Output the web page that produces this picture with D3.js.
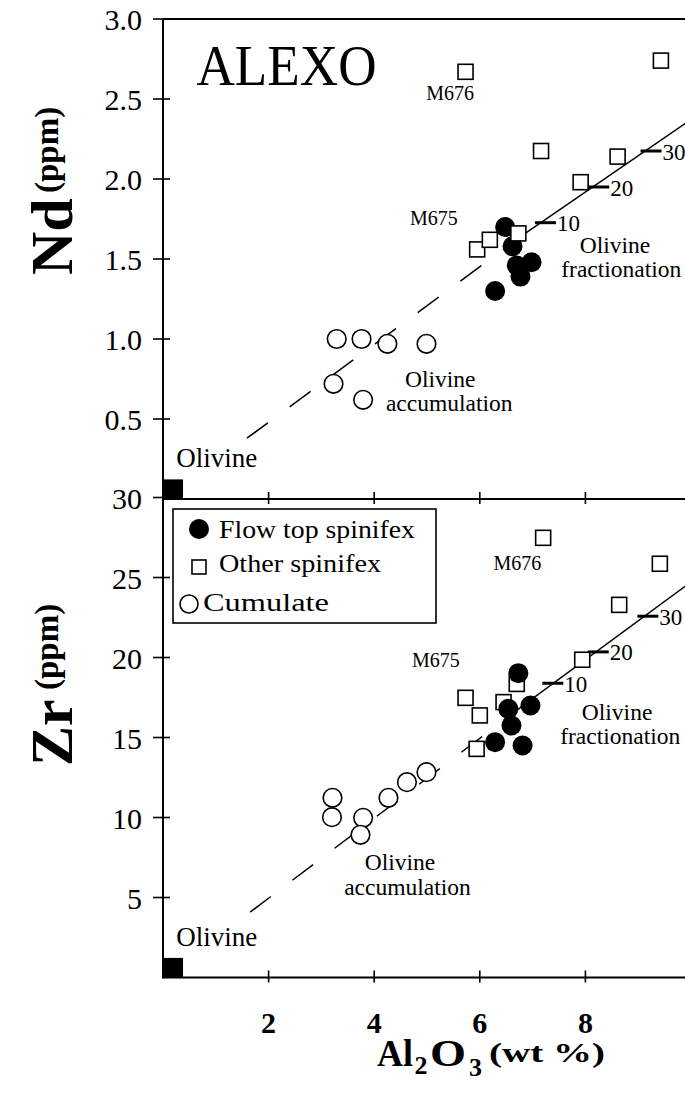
<!DOCTYPE html>
<html><head><meta charset="utf-8">
<script src="https://cdn.jsdelivr.net/npm/d3@7"></script>
<style>html,body{margin:0;padding:0;background:#fff;overflow:hidden;} svg{display:block;}</style>
</head><body>
<svg id="chart" width="685" height="1097"></svg>
<script>
// ---------- data (Al2O3 wt%, value) ----------
const xTicks = [2, 4, 6, 8];
const ndTicks = [0.5, 1.0, 1.5, 2.0, 2.5, 3.0];
const ndTickLabels = ["0.5", "1.0", "1.5", "2.0", "2.5", "3.0"];
const zrTicks = [5, 10, 15, 20, 25, 30];
const zrTickLabels = ["5", "10", "15", "20", "25", "30"];

const ndFlowTop = [[6.48,1.70],[6.62,1.58],[6.98,1.48],[6.70,1.46],[6.77,1.39],[6.29,1.30]];
const ndOther   = [[5.73,2.67],[9.43,2.74],[7.16,2.175],[8.61,2.14],[7.91,1.98],[6.73,1.66],[5.95,1.56],[6.19,1.62]];
const ndCumulate= [[3.29,1.00],[3.76,1.00],[4.25,0.97],[4.99,0.97],[3.23,0.72],[3.79,0.62]];
const ndOlivine = [[0.19,0.06]];
const ndTrendDashed = [[1.59,0.38],[6.86,1.66]];
const ndTrendSolid  = [[6.86,1.66],[9.95,2.36]];
const ndFrac = [[10,7.12,1.727],[20,8.13,1.95],[30,9.12,2.175]];

const zrFlowTop = [[6.73,19.02],[6.54,16.79],[6.96,17.00],[6.60,15.75],[6.29,14.71],[6.81,14.50]];
const zrOther   = [[7.20,27.48],[9.41,25.86],[8.64,23.29],[7.94,19.86],[6.70,18.35],[5.73,17.48],[6.45,17.21],[6.00,16.38],[5.94,14.29]];
const zrCumulate= [[3.21,11.23],[3.20,10.02],[3.79,9.98],[3.74,8.92],[4.27,11.23],[4.62,12.21],[4.99,12.83]];
const zrOlivine = [[0.19,0.6]];
const zrTrendDashed = [[1.65,4.08],[6.76,16.85]];
const zrTrendSolid  = [[6.76,16.85],[9.95,24.6]];
const zrFrac = [[10,7.26,18.39],[20,8.12,20.35],[30,9.06,22.58]];

const legendLabels = ["Flow top spinifex", "Other spinifex", "Cumulate"];

// annotations: [text, Al2O3, value]
const ndNotes = [["M676",5.44,2.494],["M675",5.13,1.7125],["Olivine",8.56,1.5375],["fractionation",8.68,1.3875],["Olivine",5.25,0.70],["accumulation",5.42,0.55]];
const zrNotes = [["M676",6.71,25.47],["M675",5.17,19.41],["Olivine",8.60,16.09],["fractionation",8.66,14.59],["Olivine",4.49,6.72],["accumulation",4.63,5.16]];

// ---------- drawing ----------
const FONT = "'Liberation Serif','Times New Roman',serif";
const svg = d3.select("#chart");
const x = d3.scaleLinear().domain([0, 10]).range([163, 691]);
const yNd = d3.scaleLinear().domain([0, 3]).range([499, 19]);
const yZr = d3.scaleLinear().domain([0, 30]).range([977.5, 497.5]);
const XL = 163, XR = 700;

// frame
const frame = svg.append("g").attr("stroke", "#000").attr("stroke-width", 2).attr("fill", "none");
frame.append("line").attr("x1", XL).attr("x2", XR).attr("y1", yNd(3)).attr("y2", yNd(3));
frame.append("line").attr("x1", XL).attr("x2", XR).attr("y1", yNd(0)).attr("y2", yNd(0));
frame.append("line").attr("x1", XL).attr("x2", XR).attr("y1", yZr(0)).attr("y2", yZr(0));
frame.append("line").attr("x1", XL).attr("x2", XL).attr("y1", yNd(3)).attr("y2", yZr(0) + 1);

function drawPanel(y, ticks, tickLabels, flow, other, cum, oliv, dashed, solid, frac, notes, squaresOnTop) {
  const g = svg.append("g");
  // x ticks (crossing)
  g.selectAll(null).data(xTicks).join("line")
    .attr("x1", d => x(d)).attr("x2", d => x(d))
    .attr("y1", y(0) - 7).attr("y2", y(0) + 5)
    .attr("stroke", "#000").attr("stroke-width", 1.6);
  // y ticks (crossing)
  g.selectAll(null).data(ticks).join("line")
    .attr("x1", XL - 10).attr("x2", XL + 7)
    .attr("y1", d => y(d)).attr("y2", d => y(d))
    .attr("stroke", "#000").attr("stroke-width", 1.6);
  g.selectAll(null).data(ticks).join("text")
    .attr("x", 142).attr("y", d => y(d) + 11)
    .attr("text-anchor", "end").attr("font-family", FONT).attr("font-size", 30)
    .text((d, i) => tickLabels[i]);

  const line = d3.line().x(d => x(d[0])).y(d => y(d[1]));
  g.append("path").attr("d", line(dashed)).attr("fill", "none").attr("stroke", "#000")
    .attr("stroke-width", 1.5).attr("stroke-dasharray", "26,27");
  g.append("path").attr("d", line(solid)).attr("fill", "none").attr("stroke", "#000")
    .attr("stroke-width", 1.5);

  // fractionation ticks
  g.selectAll(null).data(frac).join("line")
    .attr("x1", d => x(d[1]) - 4).attr("x2", d => x(d[1]) + 17)
    .attr("y1", d => y(d[2])).attr("y2", d => y(d[2]))
    .attr("stroke", "#000").attr("stroke-width", 3);
  g.selectAll(null).data(frac).join("text")
    .attr("x", d => x(d[1]) + 18).attr("y", d => y(d[2]) + 8.5)
    .attr("font-family", FONT).attr("font-size", 23).text(d => d[0]);

  // olivine end-member
  g.selectAll(null).data(oliv).join("rect")
    .attr("x", d => x(d[0]) - 10).attr("y", d => y(d[1]) - 10)
    .attr("width", 20).attr("height", 20).attr("fill", "#000");

  // cumulates
  g.selectAll(null).data(cum).join("circle")
    .attr("cx", d => x(d[0])).attr("cy", d => y(d[1])).attr("r", 9.3)
    .attr("fill", "#fff").attr("stroke", "#000").attr("stroke-width", 1.6);

  const drawSquares = () => g.selectAll(null).data(other).join("rect")
    .attr("x", d => x(d[0]) - 7.5).attr("y", d => y(d[1]) - 7.5)
    .attr("width", 15).attr("height", 15)
    .attr("fill", "#fff").attr("stroke", "#000").attr("stroke-width", 1.6);
  const drawFlow = () => g.selectAll(null).data(flow).join("circle")
    .attr("cx", d => x(d[0])).attr("cy", d => y(d[1])).attr("r", 10)
    .attr("fill", "#000");
  if (squaresOnTop) { drawFlow(); drawSquares(); } else { drawSquares(); drawFlow(); }

  // annotations
  g.selectAll(null).data(notes).join("text")
    .attr("x", d => x(d[1])).attr("y", d => y(d[2]))
    .attr("text-anchor", "middle").attr("font-family", FONT)
    .attr("font-size", d => d[0].startsWith("M") ? 20 : 23.5)
    .text(d => d[0]);

  // "Olivine" end-member label
  g.append("text").attr("x", x(0.25)).attr("y", y(0) - 32)
    .attr("font-family", FONT).attr("font-size", 27).text("Olivine");
  return g;
}

drawPanel(yNd, ndTicks, ndTickLabels, ndFlowTop, ndOther, ndCumulate, ndOlivine,
          ndTrendDashed, ndTrendSolid, ndFrac, ndNotes, true);
drawPanel(yZr, zrTicks, zrTickLabels, zrFlowTop, zrOther, zrCumulate, zrOlivine,
          zrTrendDashed, zrTrendSolid, zrFrac, zrNotes, false);

// ALEXO title
svg.append("text").attr("x", 196.5).attr("y", 85)
  .attr("font-family", FONT).attr("font-size", 58)
  .attr("textLength", 180).attr("lengthAdjust", "spacingAndGlyphs").text("ALEXO");

// legend
const lg = svg.append("g");
lg.append("rect").attr("x", 173).attr("y", 509).attr("width", 263).attr("height", 114)
  .attr("fill", "#fff").attr("stroke", "#000").attr("stroke-width", 1.6);
lg.append("circle").attr("cx", 199).attr("cy", 529).attr("r", 10).attr("fill", "#000");
lg.append("rect").attr("x", 192).attr("y", 560).attr("width", 14).attr("height", 14)
  .attr("fill", "#fff").attr("stroke", "#000").attr("stroke-width", 1.6);
lg.append("circle").attr("cx", 189).attr("cy", 604).attr("r", 9).attr("fill", "#fff")
  .attr("stroke", "#000").attr("stroke-width", 1.6);
const legPos = [[219, 537.5, 196], [219, 572, 162], [203, 611, 126]];
lg.selectAll(null).data(legendLabels).join("text")
  .attr("x", (d, i) => legPos[i][0]).attr("y", (d, i) => legPos[i][1])
  .attr("font-family", FONT).attr("font-size", 26)
  .attr("textLength", (d, i) => legPos[i][2]).attr("lengthAdjust", "spacingAndGlyphs")
  .text(d => d);

// x tick labels (bold)
svg.selectAll(null).data(xTicks).join("text")
  .attr("x", d => x(d)).attr("y", 1033).attr("text-anchor", "middle")
  .attr("font-family", FONT).attr("font-weight", "bold").attr("font-size", 30)
  .text(d => d);

// x axis title
const tt = svg.append("g").attr("font-family", FONT).attr("font-weight", "bold");
tt.append("text").attr("x", 377).attr("y", 1066).attr("font-size", 38)
  .attr("textLength", 36).attr("lengthAdjust", "spacingAndGlyphs").text("Al");
tt.append("text").attr("x", 414.5).attr("y", 1074).attr("font-size", 26).text("2");
tt.append("text").attr("x", 430).attr("y", 1066).attr("font-size", 38)
  .attr("textLength", 36).attr("lengthAdjust", "spacingAndGlyphs").text("O");
tt.append("text").attr("x", 469).attr("y", 1076).attr("font-size", 26).text("3");
tt.append("text").attr("x", 489).attr("y", 1062).attr("font-size", 28)
  .attr("textLength", 116).attr("lengthAdjust", "spacingAndGlyphs").text("(wt %)");

// y axis titles
function yTitle(big, px, by) {
  const g = svg.append("g").attr("font-family", FONT).attr("font-weight", "bold");
  g.append("text").attr("transform", `translate(72,${by}) rotate(-90)`)
    .attr("font-size", 60).text(big);
  g.append("text").attr("transform", `translate(58,${px}) rotate(-90)`)
    .attr("font-size", 33).text("(ppm)");
}
yTitle("Nd", 193, 275);
yTitle("Zr", 690, 766);
</script>
</body></html>
